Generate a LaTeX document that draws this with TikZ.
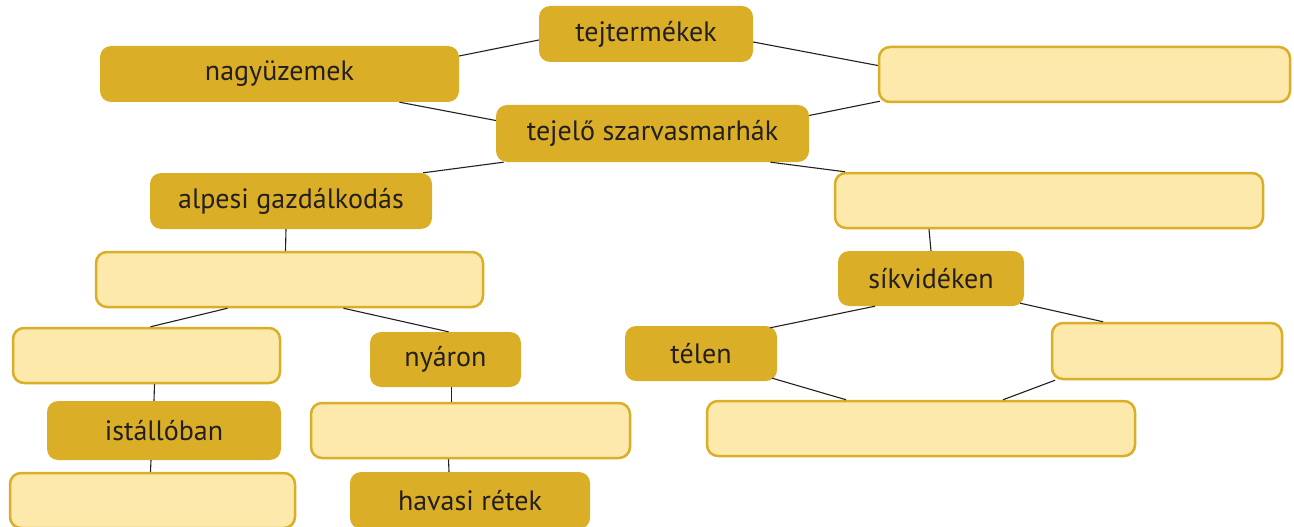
\documentclass[tikz,border=0pt]{standalone}
\usepackage{fontspec}
\setmainfont{PT Sans}
\definecolor{gold}{HTML}{DBAE27}
\definecolor{pale}{HTML}{FCE9AB}
\definecolor{ink}{HTML}{231F20}
\begin{document}
\begin{tikzpicture}[x=1pt,y=-1pt,
  darkbox/.style={rectangle,rounded corners=11pt,fill=gold,draw=none,text=ink,
    font=\fontsize{28}{32}\selectfont,inner sep=0pt},
  lightbox/.style={rectangle,rounded corners=11pt,fill=pale,draw=gold,line width=2.5pt,inner sep=0pt},
  conn/.style={draw=ink,line width=1.1pt}]
\useasboundingbox (0,0) rectangle (1294,527);
% nodes
\node[darkbox,minimum width=214pt,minimum height=56pt] (tejt) at (646,34) {tejtermékek};
\node[darkbox,minimum width=359pt,minimum height=56pt] (nagy) at (279.5,74) {nagyüzemek};
\node[lightbox,minimum width=411pt,minimum height=55pt] (r1) at (1084.5,74.5) {};
\node[darkbox,minimum width=313pt,minimum height=57pt] (tejelo) at (652.5,133.5) {tejelő szarvasmarhák};
\node[darkbox,minimum width=282pt,minimum height=56pt] (alpesi) at (291,201) {alpesi gazdálkodás};
\node[lightbox,minimum width=428pt,minimum height=55pt] (r2) at (1049,200.5) {};
\node[lightbox,minimum width=387pt,minimum height=55pt] (l1) at (289.5,279.5) {};
\node[lightbox,minimum width=267pt,minimum height=55pt] (l2) at (146.5,355.5) {};
\node[darkbox,minimum width=151pt,minimum height=55pt] (nyaron) at (445.5,359.5) {nyáron};
\node[darkbox,minimum width=234pt,minimum height=59pt] (istallo) at (164,430.5) {istállóban};
\node[lightbox,minimum width=319pt,minimum height=55pt] (l3) at (470.5,430.5) {};
\node[lightbox,minimum width=285pt,minimum height=55pt] (l4) at (152.5,500.5) {};
\node[darkbox,minimum width=240pt,minimum height=57pt] (havasi) at (470,500.5) {havasi rétek};
\node[darkbox,minimum width=186pt,minimum height=55pt] (sik) at (931,278.5) {síkvidéken};
\node[darkbox,minimum width=152pt,minimum height=55pt] (telen) at (701,353.5) {télen};
\node[lightbox,minimum width=230pt,minimum height=56pt] (r3) at (1167,351) {};
\node[lightbox,minimum width=428pt,minimum height=55pt] (r4) at (921,428.5) {};
% connectors (xshift/yshift are page shifts: positive yshift = up)
\draw[conn] ([yshift=-6pt]tejt.west) -- ([yshift=18pt]nagy.east);
\draw[conn] ([yshift=-8pt]tejt.east) -- ([yshift=9pt]r1.west);
\draw[conn] ([xshift=120pt]nagy.south) -- ([yshift=13pt]tejelo.west);
\draw[conn] ([yshift=18pt]tejelo.east) -- ([yshift=2pt,xshift=2pt]r1.south west);
\draw[conn] ([xshift=-149pt]tejelo.south) -- ([xshift=-9pt]alpesi.north east);
\draw[conn] ([xshift=118pt]tejelo.south) -- ([xshift=11pt]r2.north west);
\draw[conn] ([xshift=-5pt]alpesi.south) -- ([xshift=-4pt]l1.north);
\draw[conn] ([xshift=-62pt]l1.south) -- ([xshift=4pt]l2.north);
\draw[conn] ([xshift=54pt]l1.south) -- ([xshift=3pt]nyaron.north);
\draw[conn] ([xshift=8pt]l2.south) -- ([xshift=-10pt]istallo.north);
\draw[conn] ([xshift=-13pt]istallo.south) -- ([xshift=-2pt]l4.north);
\draw[conn] ([xshift=6pt]nyaron.south) -- ([xshift=-19pt]l3.north);
\draw[conn] ([xshift=-22pt]l3.south) -- ([xshift=-21pt]havasi.north);
\draw[conn] ([xshift=-120pt]r2.south) -- (sik.north);
\draw[conn] ([xshift=-56pt]sik.south) -- ([yshift=-2pt,xshift=-7pt]telen.north east);
\draw[conn] ([xshift=-4pt,yshift=3pt]sik.south east) -- ([xshift=-64pt]r3.north);
\draw[conn] ([xshift=-5pt,yshift=3pt]telen.south east) -- ([xshift=-75pt]r4.north);
\draw[conn] ([xshift=-112pt]r3.south) -- ([xshift=82pt]r4.north);
\end{tikzpicture}
\end{document}
